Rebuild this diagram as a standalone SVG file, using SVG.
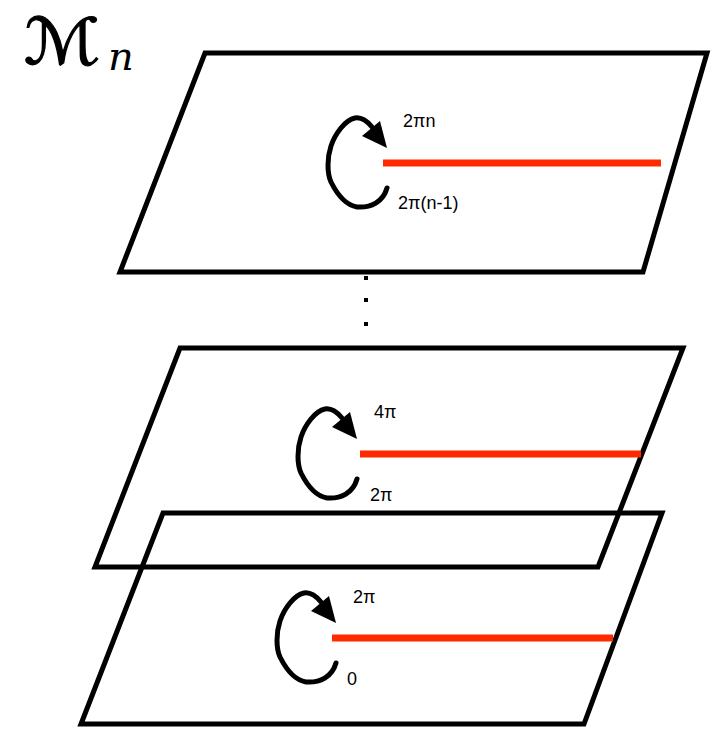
<svg xmlns="http://www.w3.org/2000/svg" width="722" height="730" viewBox="0 0 722 730">
<style>
.plane{fill:none;stroke:#000;stroke-width:5;stroke-linejoin:miter}
.cut{stroke:#ff2a00;stroke-width:7;stroke-linecap:butt}
.loop{fill:none;stroke:#000;stroke-width:5;stroke-linecap:round;stroke-linejoin:round}
.lbl{font-family:"Liberation Sans",Arial,sans-serif;font-size:18px;fill:#000}
</style>
<defs>
<g id="loopShape">
<path class="loop" d="M 0,40 C -4,54 -16,60 -30,59 C -42,57 -50,46 -56,34 C -60,25 -60,10 -56,-2 C -52,-14 -42,-28 -32,-30 C -26,-31 -20,-27 -15,-21"/>
<polygon points="0,0 -25,-12 -7,-27" fill="#000"/>
</g>
</defs>
<text transform="translate(24,64) scale(1.12,1)" font-family="'DejaVu Sans',sans-serif" font-size="64" stroke="#000" stroke-width="1.2">ℳ</text>
<text x="108" y="70" font-family="'DejaVu Serif',serif" font-style="italic" font-size="40">n</text>
<g id="sheet-n">
<polygon class="plane" points="205,53 707,53 643,272 120,272"/>
<line class="cut" x1="383" y1="163" x2="661" y2="163"/>
<use href="#loopShape" transform="translate(387,148)"/>
<text class="lbl" x="403" y="127">2πn</text>
<text class="lbl" x="398" y="209">2π(n-1)</text>
</g>
<g id="dots">
<rect x="364" y="276" width="4" height="4"/>
<rect x="364" y="298" width="4" height="4"/>
<rect x="364" y="322" width="4" height="4"/>
</g>
<g id="sheet-2">
<polygon class="plane" points="180,348 683,348 598,567 95,567"/>
<line class="cut" x1="360" y1="454" x2="641" y2="454"/>
<use href="#loopShape" transform="translate(357,439)"/>
<text class="lbl" x="374" y="418">4π</text>
<text class="lbl" x="370" y="501">2π</text>
</g>
<g id="sheet-1">
<polygon class="plane" points="163,513 662,513 584,724 81,724"/>
<line class="cut" x1="332" y1="638" x2="613" y2="638"/>
<use href="#loopShape" transform="translate(336,623)"/>
<text class="lbl" x="353" y="603">2π</text>
<text class="lbl" x="347" y="685">0</text>
</g>
<g id="connectors"></g>
</svg>
